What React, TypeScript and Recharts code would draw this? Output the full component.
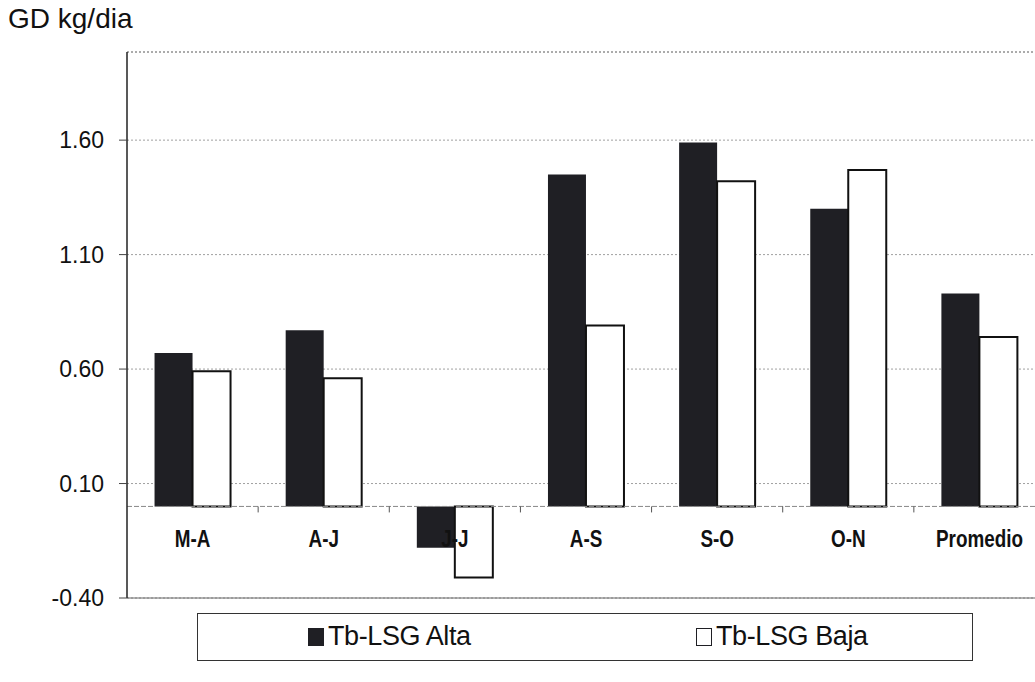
import React from 'react';
import {
  BarChart,
  Bar,
  XAxis,
  YAxis,
  CartesianGrid,
  ReferenceLine,
  Legend,
} from 'recharts';

// ---- data ----
const categories = ['M-A', 'A-J', 'J-J', 'A-S', 'S-O', 'O-N', 'Promedio'];
const altaValues = [0.67, 0.77, -0.18, 1.45, 1.59, 1.3, 0.93];
const bajaValues = [0.59, 0.56, -0.31, 0.79, 1.42, 1.47, 0.74];
const seriesNames = ['Tb-LSG Alta', 'Tb-LSG Baja'];
const yTicks = [-0.4, 0.1, 0.6, 1.1, 1.6];
const yTitle = 'GD kg/dia';

const Y_MIN = -0.4;
const Y_MAX = 1.985;

const data = categories.map((c, i) => ({
  cat: c,
  alta: altaValues[i],
  baja: bajaValues[i],
}));

// ---- layout ----
const W = 1047;
const H = 665;
const MARGIN = { top: 44, right: 10, left: 0, bottom: 12 };
const Y_AXIS_W = 119;
const X_AXIS_H = 15;
const LEGEND_H = 48;
const PLOT_H = H - MARGIN.top - MARGIN.bottom - X_AXIS_H - LEGEND_H;
const PLOT_W = W - MARGIN.left - MARGIN.right - Y_AXIS_W;
const FONT = '"Liberation Sans", Arial, sans-serif';

const CategoryTick = (props: any) => {
  const { x, y, payload } = props;
  const zeroY = y - (PLOT_H * (0 - Y_MIN)) / (Y_MAX - Y_MIN);
  const band = PLOT_W / categories.length;
  return (
    <g>
      <line
        x1={x + band / 2}
        x2={x + band / 2}
        y1={zeroY}
        y2={zeroY + 6}
        stroke="#555"
        strokeWidth={1}
      />
      <text
        transform={`translate(${x},${zeroY + 41}) scale(0.82,1)`}
        textAnchor="middle"
        fontWeight="bold"
        fontSize={23}
        fill="#111"
        fontFamily={FONT}
      >
        {payload.value}
      </text>
    </g>
  );
};

const LegendBox = (props: any) => {
  const payload = props.payload || [];
  const offsets = [110, 498];
  return (
    <div
      style={{
        position: 'relative',
        width: 776,
        height: LEGEND_H,
        boxSizing: 'border-box',
        border: '1.5px solid #333',
        background: '#fff',
        fontFamily: FONT,
      }}
    >
      {payload.map((p: any, i: number) => (
        <div
          key={i}
          style={{
            position: 'absolute',
            left: offsets[i],
            top: 0,
            height: LEGEND_H - 3,
            display: 'flex',
            alignItems: 'center',
          }}
        >
          <span
            style={{
              display: 'inline-block',
              width: 16,
              height: 18,
              boxSizing: 'border-box',
              background: i === 0 ? '#1f1f24' : '#fff',
              border: '1.5px solid #1f1f24',
              marginRight: 4,
            }}
          />
          <span style={{ fontSize: 27, color: '#111', letterSpacing: -0.4 }}>{p.value}</span>
        </div>
      ))}
    </div>
  );
};

export default function App() {
  return (
    <div
      style={{
        position: 'fixed',
        top: 0,
        left: 0,
        width: 1035,
        height: 682,
        overflow: 'hidden',
        background: '#fff',
        fontFamily: FONT,
      }}
    >
      <div
        style={{
          position: 'absolute',
          top: 5,
          left: 8,
          fontSize: 28,
          lineHeight: 1,
          color: '#111',
          letterSpacing: 0,
          whiteSpace: 'nowrap',
        }}
      >
        {yTitle}
      </div>
      <div style={{ position: 'absolute', top: 8, left: 8 }}>
        <BarChart
          width={W}
          height={H}
          data={data}
          margin={MARGIN}
          barCategoryGap="21%"
          barGap={0}
        >
          <CartesianGrid vertical={false} stroke="#a0a0a0" strokeDasharray="2 2" />
          <ReferenceLine y={Y_MAX} stroke="#888" strokeDasharray="2 2" />
          <ReferenceLine y={Y_MIN} stroke="#666" />
          <YAxis
            type="number"
            domain={[Y_MIN, Y_MAX]}
            ticks={yTicks}
            interval={0}
            width={Y_AXIS_W}
            tickSize={8}
            tickMargin={15}
            axisLine={{ stroke: '#222', strokeWidth: 1.5 }}
            tickLine={{ stroke: '#444' }}
            tick={{ fontSize: 23, fill: '#111' }}
            tickFormatter={(v: number) => v.toFixed(2)}
          />
          <ReferenceLine y={0} stroke="#888" strokeDasharray="5 2" />
          <Bar
            dataKey="alta"
            name={seriesNames[0]}
            fill="#1f1f24"
            isAnimationActive={false}
          />
          <Bar
            dataKey="baja"
            name={seriesNames[1]}
            fill="#ffffff"
            stroke="#111"
            strokeWidth={2}
            isAnimationActive={false}
          />
          <XAxis
            dataKey="cat"
            height={X_AXIS_H}
            axisLine={false}
            tickLine={false}
            tickSize={0}
            tickMargin={0}
            interval={0}
            tick={<CategoryTick />}
          />
          <Legend
            verticalAlign="bottom"
            content={<LegendBox />}
            wrapperStyle={{ left: 189, width: 776 }}
          />
        </BarChart>
      </div>
    </div>
  );
}
